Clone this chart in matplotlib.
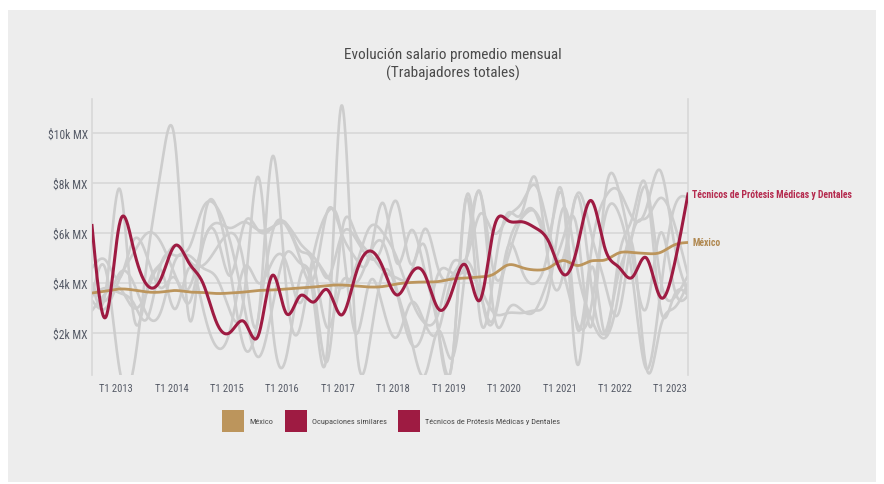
import numpy as np
import matplotlib
matplotlib.use("Agg")
import matplotlib.pyplot as plt
from matplotlib.patches import Rectangle
from matplotlib import font_manager as fm

_fonts = fm.fontManager.ttflist
_names = {f.name for f in _fonts}
FONT_STRETCH = "normal"
if "Roboto Condensed" in _names:
    FONT = "Roboto Condensed"
elif "Liberation Sans Narrow" in _names:
    FONT = "Liberation Sans Narrow"
elif any(f.name == "DejaVu Sans" and f.stretch == "condensed" for f in _fonts):
    FONT = "DejaVu Sans"
    FONT_STRETCH = "condensed"
elif "Roboto" in _names:
    FONT = "Roboto"
else:
    FONT = "DejaVu Sans"
plt.rcParams['font.family'] = [FONT, 'DejaVu Sans']
plt.rcParams['font.stretch'] = FONT_STRETCH

years = list(range(2013, 2024))
tick_labels = [f"T1 {y}" for y in years]
y_ticks = [2000, 4000, 6000, 8000, 10000]
y_tick_labels = ["$2k MX", "$4k MX", "$6k MX", "$8k MX", "$10k MX"]

# quarterly values, 2013 T1 .. 2023 T4
tecnicos = [6300, 2640, 6400, 5360, 3900, 4200, 5500, 4800, 4000, 2400, 2040, 2440,
            1900, 4300, 2800, 3480, 3240, 3720, 2720, 4300, 5280, 4600, 3520, 4350,
            4350, 2960, 3700, 4680, 3320, 6200, 6500, 6450, 6200, 5600, 4350, 5400,
            7300, 5400, 4640, 4240, 5000, 3440, 4700, 7560]

mexico = [3600, 3680, 3760, 3720, 3640, 3640, 3700, 3640, 3620, 3580, 3600, 3640,
          3700, 3720, 3760, 3800, 3840, 3900, 3920, 3880, 3840, 3860, 3960, 4020,
          4040, 4060, 4160, 4200, 4240, 4360, 4720, 4620, 4520, 4620, 4900, 4700,
          4880, 4920, 5200, 5220, 5180, 5220, 5520, 5620]

similares = [
    [3440, 4500, 500, 600, 5000, 8600, 9600, 2600, 6200, 7000, 4400, 1400,
     2600, 6000, 6300, 5000, 4200, 6900, 6000, 5000, 5000, 7200, 4800, 6100,
     4500, 2100, 900, 7400, 2600, 4400, 6800, 6800, 8200, 4600, 4400, 7500,
     4000, 2000, 4400, 6000, 7800, 4200, 3400, 4300],
    [4000, 3700, 7760, 2700, 3800, 4800, 5500, 4900, 4700, 5400, 6000, 4600,
     2600, 9040, 3900, 2200, 4800, 4200, 5900, 5800, 5000, 5600, 7240, 4760,
     6160, 4520, 4300, 4900, 3600, 2600, 5440, 4520, 4000, 5600, 7360, 760,
     4600, 1960, 5000, 6640, 7840, 3000, 3500, 3500],
    [4600, 4900, 4200, 5720, 5000, 3800, 4200, 3200, 5500, 5900, 4300, 6400,
     6100, 6200, 6400, 5300, 4700, 2200, 4000, 4000, 5100, 5600, 3700, 1800,
     300, 2100, 1000, 4900, 7600, 4400, 5000, 6600, 6800, 6000, 7400, 2200,
     5200, 7400, 7700, 6600, 7000, 8500, 5600, 3600],
    [3500, 3800, 3600, 3200, 2600, 4800, 5100, 5100, 4600, 4200, 2800, 3600,
     8240, 2400, 1000, 4200, 3300, 1500, 11100, 2100, 1500, 4400, 3600, 1600,
     2200, 4400, 4400, 4400, 3800, 2800, 2800, 2800, 2900, 3800, 7000, 4600,
     2600, 1800, 3600, 5500, 600, 2200, 3000, 4000],
    [4000, 3300, 4400, 4000, 2700, 2900, 4900, 5400, 7000, 7040, 5600, 3000,
     1040, 3000, 5200, 4800, 3800, 900, 5960, 6000, 5200, 4500, 4200, 4400,
     5500, 2000, 920, 7440, 4000, 2520, 5400, 6600, 6840, 5600, 4400, 2400,
     3000, 6600, 6800, 4200, 560, 3600, 7000, 7400],
    [3300, 3000, 4200, 5200, 6000, 5600, 4300, 3800, 5600, 6400, 6200, 6440,
     6120, 6240, 6360, 5600, 5040, 4240, 3800, 4600, 6200, 6000, 5000, 3400,
     2400, 2800, 4800, 5000, 6760, 6000, 6640, 7200, 7900, 6000, 5000, 7560,
     6000, 4000, 2800, 5960, 6600, 7400, 6400, 4300],
    [2900, 3600, 3800, 3000, 3700, 4500, 2960, 4600, 3000, 1440, 2200, 4640,
     4000, 4840, 4840, 3200, 5200, 6840, 5900, 2000, 4000, 3000, 1840, 3200,
     2400, 2120, 4200, 4920, 7640, 2760, 2920, 2920, 2920, 4300, 5800, 6160,
     2240, 7440, 7720, 5000, 3000, 6000, 3800, 3500],
]


def natural_spline(y, n=24):
    y = np.asarray(y, dtype=float)
    N = len(y)
    A = np.zeros((N, N))
    b = np.zeros(N)
    A[0, 0] = 1
    A[-1, -1] = 1
    for i in range(1, N - 1):
        A[i, i - 1] = 1
        A[i, i] = 4
        A[i, i + 1] = 1
        b[i] = 6 * (y[i + 1] - 2 * y[i] + y[i - 1])
    M = np.linalg.solve(A, b)
    xs = np.linspace(0, N - 1, (N - 1) * n + 1)
    idx = np.clip(np.floor(xs).astype(int), 0, N - 2)
    t = xs - idx
    y0, y1 = y[idx], y[idx + 1]
    m0, m1 = M[idx], M[idx + 1]
    ys = (1 - t) * y0 + t * y1 + ((1 - t) ** 3 - (1 - t)) * m0 / 6 + (t ** 3 - t) * m1 / 6
    return xs, ys


W, H = 884, 485
fig = plt.figure(figsize=(W / 100, H / 100), dpi=100)
fig.patch.set_facecolor("white")
fig.patches.append(Rectangle((8 / W, 2 / H), 868 / W, 472 / H, transform=fig.transFigure,
                             facecolor="#ededed", edgecolor="none", zorder=-10))

ax = fig.add_axes([92 / W, (H - 376) / H, 596 / W, 276 / H])
ax.set_facecolor("none")
ax.set_zorder(5)

GRAY = "#cdcdcd"
RED = "#9e1b42"
GOLD = "#bc955c"

for s in similares:
    xs, ys = natural_spline(s)
    ax.plot(xs, ys, color=GRAY, lw=1.9, solid_capstyle="round", zorder=2)

xs, ys = natural_spline(mexico)
ax.plot(xs, ys, color=GOLD, lw=2.0, zorder=3)
xs, ys = natural_spline(tecnicos)
ax.plot(xs, ys, color=RED, lw=2.2, zorder=4)

ax.set_xlim(0, len(tecnicos) - 1)
ax.set_ylim(320, 11360)
ax.set_yticks(y_ticks)
ax.set_yticklabels(y_tick_labels)
ax.set_xticks([4 * k + 1.73 for k in range(len(years))])
ax.set_xticklabels(tick_labels)
ax.tick_params(axis="both", length=0, colors="#555a66")
ax.tick_params(axis="x", pad=6, labelsize=7.6)
ax.tick_params(axis="y", pad=3, labelsize=8.4)
ax.grid(axis="y", color="#d8d8d8", lw=1.2, zorder=1)
for sp in ["top", "bottom"]:
    ax.spines[sp].set_visible(False)
for sp in ["left", "right"]:
    ax.spines[sp].set_color("#d8d8d8")
    ax.spines[sp].set_linewidth(1.2)

fig.text(453 / W, 1 - 55 / H, "Evolución salario promedio mensual", ha="center", va="center",
         fontsize=11, color="#4a4a4a")
fig.text(453 / W, 1 - 73 / H, "(Trabajadores totales)", ha="center", va="center",
         fontsize=11, color="#4a4a4a")

ax.annotate("Técnicos de Prótesis Médicas y Dentales", xy=(1, tecnicos[-1]),
            xycoords=("axes fraction", "data"), xytext=(3, 0), textcoords="offset points",
            ha="left", va="center", fontsize=7, fontweight="bold", color="#b52a4e",
            annotation_clip=False)
ax.annotate("México", xy=(1, mexico[-1]), xycoords=("axes fraction", "data"),
            xytext=(3, 0), textcoords="offset points",
            ha="left", va="center", fontsize=7, fontweight="bold", color="#b08850",
            annotation_clip=False)

legend_items = [("México", GOLD, 222), ("Ocupaciones similares", RED, 285),
                ("Técnicos de Prótesis Médicas y Dentales", RED, 398)]
for label, col, x0 in legend_items:
    fig.patches.append(Rectangle((x0 / W, 1 - 433 / H), 22 / W, 22 / H, transform=fig.transFigure,
                                 facecolor=col, edgecolor="none", zorder=2))
    fig.text((x0 + 27) / W, 1 - 422 / H, label, ha="left", va="center", fontsize=6,
             color="#4a4a4a")

fig.savefig("out.png", dpi=100, facecolor=fig.get_facecolor())
